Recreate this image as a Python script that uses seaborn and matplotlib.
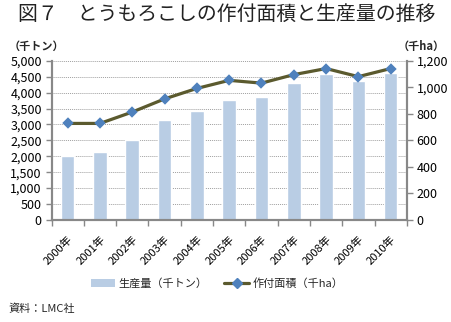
import matplotlib
matplotlib.use("Agg")
import matplotlib.pyplot as plt
import seaborn as sns
import numpy as np
import pandas as pd
from matplotlib.patches import Patch
from matplotlib.lines import Line2D
from matplotlib.ticker import FuncFormatter, MultipleLocator, FixedLocator

years = ["2000年", "2001年", "2002年", "2003年", "2004年", "2005年",
         "2006年", "2007年", "2008年", "2009年", "2010年"]
production = [2000, 2150, 2500, 3130, 3430, 3780, 3860, 4290, 4580, 4380, 4610]
area = [728, 728, 814, 913, 992, 1053, 1032, 1096, 1142, 1081, 1142]

sns.set_theme(style="white")
plt.rcParams['font.family'] = ['Noto Sans CJK JP', 'DejaVu Sans']

fig = plt.figure(figsize=(4.52, 3.22), dpi=100)
ax = fig.add_axes([0.114, 0.317, 0.786, 0.494])

df = pd.DataFrame({"year": years, "production": production, "area": area})

bar_color = "#b9cde4"
line_color = "#5b5a2e"
marker_color = "#4f81bd"
axis_color = "#888888"

sns.barplot(data=df, x="year", y="production", ax=ax, color=bar_color,
            width=0.42, saturation=1, zorder=2)
ax.set_ylim(0, 5000)
ax.set_xlim(-0.5, len(years) - 0.5)
ax.yaxis.set_major_locator(MultipleLocator(500))
ax.yaxis.set_major_formatter(FuncFormatter(lambda v, p: f"{int(v):,}"))
ax.grid(axis="y", color="#a0a0a0", linestyle=(0, (1, 1)), linewidth=0.7, zorder=0)
ax.set_axisbelow(True)
ax.set_xlabel("")
ax.set_ylabel("")

ax2 = ax.twinx()
sns.pointplot(data=df, x="year", y="area", ax=ax2, color=line_color,
              markers="D", linewidth=2.3, markersize=4.2)
for ln in ax2.lines:
    ln.set_markerfacecolor(marker_color)
    ln.set_markeredgecolor(marker_color)
ax2.set_ylim(0, 1200)
ax2.set_xlim(-0.5, len(years) - 0.5)
ax2.yaxis.set_major_locator(MultipleLocator(200))
ax2.yaxis.set_major_formatter(FuncFormatter(lambda v, p: f"{int(v):,}"))
ax2.set_ylabel("")
ax2.set_xlabel("")
ax2.grid(False)

for a in (ax, ax2):
    a.spines["top"].set_visible(False)
    for s in ("left", "right", "bottom"):
        a.spines[s].set_color(axis_color)
        a.spines[s].set_linewidth(1.5)

ax.tick_params(axis="y", which="major", direction="out", length=4, width=1,
               color=axis_color, labelsize=9, pad=3, left=True, labelcolor="black")
ax2.tick_params(axis="y", which="major", direction="out", length=4, width=1,
                color=axis_color, labelsize=9, pad=3, right=True, labelcolor="black")

ax.set_xticks(range(len(years)))
ax.set_xticklabels(years, rotation=45, ha="right", rotation_mode="anchor", fontsize=8)
ax.xaxis.set_minor_locator(FixedLocator(np.arange(-0.5, len(years), 1.0)))
ax.tick_params(axis="x", which="major", length=0, pad=10, labelcolor="black")
ax.tick_params(axis="x", which="minor", direction="out", length=4, width=1,
               color=axis_color, bottom=True)
ax2.tick_params(axis="x", which="both", length=0)

fig.text(0.04, 0.955, "図７　とうもろこしの作付面積と生産量の推移", fontsize=14.3,
         ha="left", va="center", color="#222222")
fig.text(0.018, 0.857, "（千トン）", fontsize=8, fontweight="bold", ha="left", va="center")
fig.text(0.985, 0.857, "（千ha）", fontsize=8, fontweight="bold", ha="right", va="center")

handles = [Patch(facecolor=bar_color, edgecolor="none"),
           Line2D([0], [0], color=line_color, linewidth=2.3, marker="D",
                  markersize=5, markerfacecolor=marker_color, markeredgecolor=marker_color)]
fig.legend(handles, ["生産量（千トン）", "作付面積（千ha）"], loc="center",
           bbox_to_anchor=(0.48, 0.12), ncol=2, frameon=False, fontsize=8,
           handlelength=2.2, columnspacing=1.5, handletextpad=0.3)

fig.text(0.018, 0.04, "資料：LMC社", fontsize=8, ha="left", va="center")

fig.savefig("out.png", dpi=100)
